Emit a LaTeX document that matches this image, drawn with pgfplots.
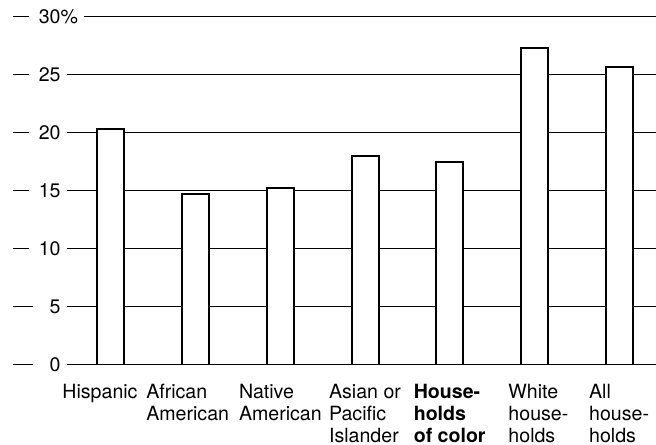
\documentclass[border=0pt]{standalone}
\usepackage{pgfplots}
\pgfplotsset{compat=1.18}
\usepackage{fontspec}
\setmainfont{TeX Gyre Heros}

\newcommand{\ylab}[2]{\makebox[30pt][l]{\hspace*{6pt}\rule[0.33em]{#1}{0.6pt}\hfill #2}}

\begin{document}
\begin{tikzpicture}
  \begin{axis}[
    scale only axis,
    width=294.5pt, height=174pt,
    xmin=-0.52, xmax=6.43,
    ymin=0, ymax=30,
    ybar, bar width=13.5pt,
    axis line style={draw=none},
    tick style={draw=none},
    ymajorgrids,
    grid style={black, line width=0.5pt},
    ytick={0,5,...,30},
    yticklabels={\ylab{10pt}{0},\ylab{10pt}{5},\ylab{8pt}{10},\ylab{8pt}{15},
      \ylab{8pt}{20},\ylab{8pt}{25},
      \ylab{8pt}{30}\rlap{\fboxsep=0pt\colorbox{white}{\%\hspace*{3pt}}}},
    yticklabel style={anchor=east, inner sep=0pt, xshift=-3pt,
      font=\fontsize{9.8}{11}\selectfont},
    xtick={0,...,6},
    xticklabels={Hispanic\hspace*{11pt},
      African\\American\hspace*{8pt},
      Native\\American,
      Asian or\\Pacific\\Islander,
      \textbf{House-}\\\textbf{holds}\\\textbf{of color},
      \hspace*{4pt}White\\\hspace*{4pt}house-\\\hspace*{4pt}holds,
      All\\house-\hspace*{4pt}\\holds},
    xticklabel style={align=left, anchor=north, inner sep=0pt, yshift=-5.5pt,
      font=\fontsize{9.8}{11}\selectfont},
  ]
    % percent of households
    \addplot[draw=black, fill=white, line width=1pt] coordinates {
      (0,20.3) (1,14.7) (2,15.25) (3,18.0) (4,17.5) (5,27.3) (6,25.7)
    };
  \end{axis}
  \path (current axis.south west) ++(-33.5pt,-40pt);
  \path (current axis.north east) ++(0,8.5pt);
\end{tikzpicture}
\end{document}
